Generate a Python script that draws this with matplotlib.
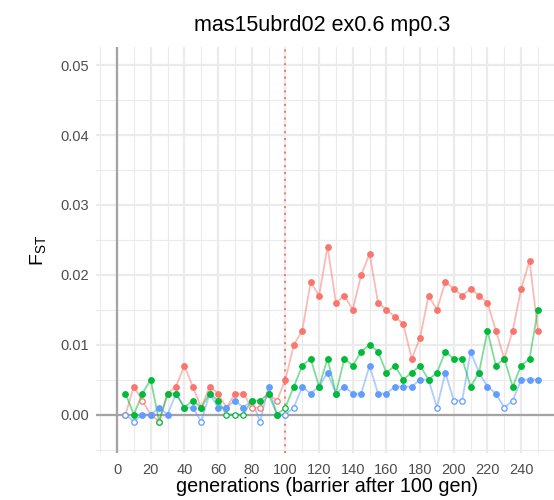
import matplotlib
matplotlib.use("Agg")
import matplotlib.pyplot as plt
import numpy as np

plt.rcParams['font.family'] = ['Liberation Sans', 'DejaVu Sans']

gens = np.arange(5, 255, 5)

red = [0.000, 0.004, 0.002, 0.000, -0.001, 0.003, 0.004, 0.007, 0.004, 0.001,
       0.004, 0.003, 0.001, 0.003, 0.003, 0.001, 0.001, 0.003, 0.002, 0.005,
       0.010, 0.012, 0.019, 0.017, 0.024, 0.016, 0.017, 0.015, 0.020, 0.023,
       0.016, 0.015, 0.014, 0.013, 0.008, 0.011, 0.017, 0.015, 0.019, 0.018,
       0.017, 0.018, 0.017, 0.016, 0.012, 0.008, 0.012, 0.018, 0.022, 0.012]
green = [0.003, 0.000, 0.003, 0.005, -0.001, 0.003, 0.003, 0.001, 0.002, 0.001,
         0.003, 0.002, 0.000, 0.000, 0.000, 0.002, 0.002, 0.003, 0.000, 0.001,
         0.004, 0.007, 0.008, 0.004, 0.008, 0.003, 0.008, 0.007, 0.009, 0.010,
         0.009, 0.006, 0.007, 0.005, 0.006, 0.007, 0.005, 0.006, 0.009, 0.008,
         0.008, 0.004, 0.006, 0.012, 0.007, 0.008, 0.004, 0.007, 0.008, 0.015]
blue = [0.000, -0.001, 0.000, 0.000, 0.001, 0.000, 0.003, 0.001, 0.001, -0.001,
        0.003, 0.001, 0.001, 0.002, 0.001, 0.002, -0.001, 0.004, 0.000, 0.000,
        0.001, 0.004, 0.003, 0.004, 0.006, 0.003, 0.004, 0.003, 0.003, 0.007,
        0.003, 0.003, 0.004, 0.004, 0.004, 0.005, 0.005, 0.001, 0.006, 0.002,
        0.002, 0.009, 0.006, 0.004, 0.003, 0.001, 0.002, 0.005, 0.005, 0.005]

# generations where the point is drawn open (not significant)
red_open = [5, 15, 25, 65, 80, 85, 95]
green_open = [25, 65, 70, 75, 100]
blue_open = [5, 10, 50, 85, 100, 105, 190, 200, 205, 230, 235]

series = [
    (red, red_open, '#F8766D'),
    (blue, blue_open, '#619CFF'),
    (green, green_open, '#00BA38'),
]

fig = plt.figure(figsize=(5.54, 5.0), dpi=100)
ax = fig.add_axes([96/554, 47/500, 463/554, 406/500])

ax.axhline(0, color='#A3A3A3', lw=1.6, zorder=1)
ax.axvline(0, color='#A3A3A3', lw=1.6, zorder=1)
ax.axvline(100, color='#F8766D', lw=1.4, ls=(0, (1, 2.5)), zorder=1)

for vals, open_gens, col in series:
    vals = np.array(vals)
    ax.plot(gens, vals, color=col, alpha=0.5, lw=1.3, zorder=2)
    hollow = np.isin(gens, open_gens)
    ax.plot(gens[~hollow], vals[~hollow], 'o', color=col, ms=3.9, zorder=3)
    ax.plot(gens[hollow], vals[hollow], 'o', mfc='white', mec=col, mew=0.9,
            ms=3.9, zorder=3)

ax.set_xlim(-12.5, 262.5)
ax.set_ylim(-0.0055, 0.0526)
ax.set_xticks(np.arange(0, 250, 20))
ax.set_xticks(np.arange(-10, 260, 20), minor=True)
ax.set_yticks(np.arange(0, 0.051, 0.01))
ax.set_yticks(np.arange(-0.005, 0.051, 0.01), minor=True)
ax.set_yticklabels(['0.00', '0.01', '0.02', '0.03', '0.04', '0.05'])
ax.grid(which='major', color='#EBEBEB', lw=1.6, zorder=0)
ax.grid(which='minor', color='#EBEBEB', lw=0.8, zorder=0)
ax.set_axisbelow(True)
for s in ax.spines.values():
    s.set_visible(False)
ax.tick_params(which='both', length=0, labelsize=10.5, labelcolor='#4D4D4D')
ax.tick_params(axis='x', pad=7)
ax.tick_params(axis='y', pad=5)

ax.set_xlabel('generations (barrier after 100 gen)', fontsize=14.2, labelpad=0)
ax.set_ylabel(r'$\mathregular{F_{ST}}$', fontsize=14, labelpad=9)
fig.text(322.5/554, 1 - 26/500, 'mas15ubrd02 ex0.6 mp0.3', ha='center', va='center',
         fontsize=15.5)

fig.savefig('out.png', dpi=100)
